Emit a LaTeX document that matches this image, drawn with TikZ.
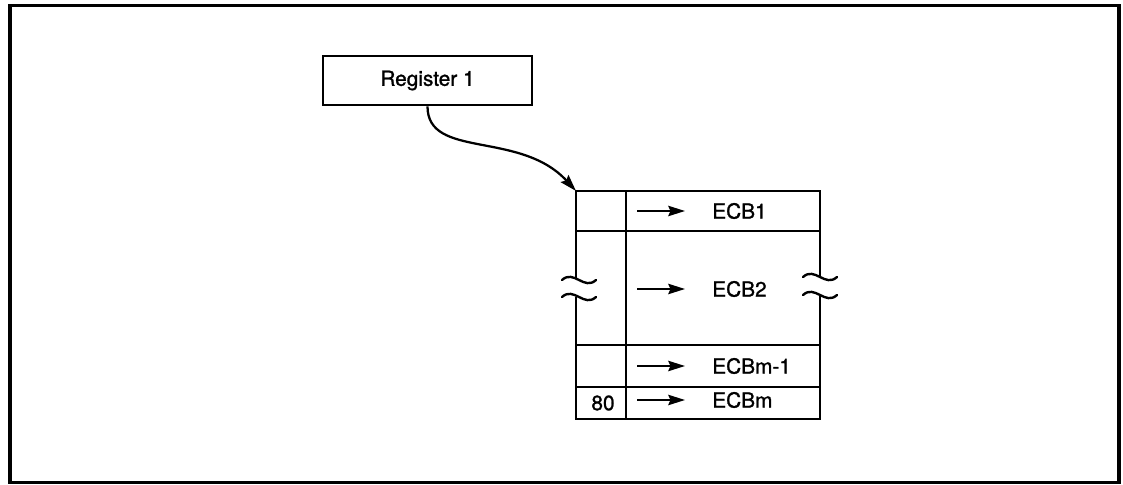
\documentclass[tikz,border=0pt]{standalone}
\usepackage{fontspec}
\setmainfont{TeX Gyre Heros}
\newfontfamily\ecbfont{TeX Gyre Heros}[FakeBold=1.2]
\usetikzlibrary{arrows.meta}

\begin{document}
\begin{tikzpicture}[x=0.025cm, y=-0.025cm,
    >={Stealth[length=0.42cm, width=0.26cm, inset=0.06cm]},
    frame/.style={line width=2.4pt},
    wall/.style={line width=1.8pt},
    regbox/.style={draw, line width=2pt, minimum width=5.225cm, minimum height=1.225cm,
        inner sep=0pt, font=\ecbfont\fontsize{14.8}{17}\selectfont},
    lbl/.style={anchor=west, inner sep=0pt, font=\ecbfont\fontsize{14.8}{17}\selectfont},
    ptr/.style={->, line width=1.5pt},
    brk/.style={line width=1.7pt, line cap=round}]
        \useasboundingbox (0,0) rectangle (1123,485);

        % ==== FRAME ====
        \draw[frame] (10,5.5) rectangle (1119,482.5);

        % ==== REGISTER ====
        \node[regbox] (reg) at (427.5,80.5) {Register 1};

        % ==== TABLE ====
        \coordinate (tabtop) at (576,191);
        \draw[wall] (576,279) -- (tabtop) -- (820,191) -- (820,277);
        \draw[wall] (576,297) -- (576,419) -- (820,419) -- (820,295);
        \draw[wall] (626,191) -- (626,419);
        \foreach \y in {231,345,387}{
            \draw[wall] (576,\y) -- (820,\y);
        }

        % ==== BREAK MARKS ====
        \foreach \x/\y in {579/280, 579/297, 820/277, 820/295}{
            \draw[brk] (\x-17,\y) .. controls (\x-5,\y-11) and (\x+5,\y+11) .. (\x+17,\y);
        }

        % ==== ENTRIES ====
        \foreach \n/\t/\y in {e1/ECB1/211, e2/ECB2/289, e3/ECBm-1/366, e4/ECBm/400}{
            \node[lbl] (\n) at (712,\y) {\t};
            \coordinate (\n a) at (637,\y);
            \draw[ptr] (\n a) -- ([xshift=-0.675cm]\n.west);
        }
        \node[lbl, anchor=center] (flag) at (603,403) {80};

        % ==== POINTER ====
        \draw[->, line width=1.6pt] (reg.south) .. controls +(0,53) and +(-56,-61) .. (tabtop);

    \end{tikzpicture}
\end{document}
